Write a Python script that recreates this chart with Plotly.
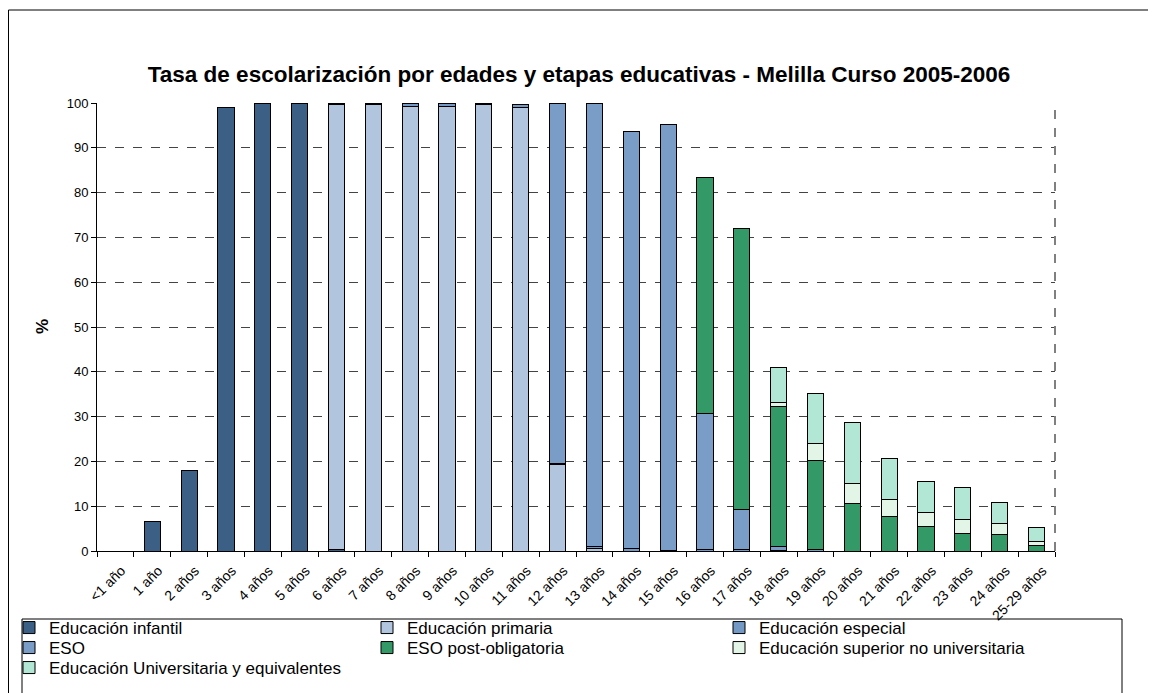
import plotly.graph_objects as go

categories = ["<1 año", "1 año", "2 años", "3 años", "4 años", "5 años", "6 años",
              "7 años", "8 años", "9 años", "10 años", "11 años", "12 años", "13 años",
              "14 años", "15 años", "16 años", "17 años", "18 años", "19 años",
              "20 años", "21 años", "22 años", "23 años", "24 años", "25-29 años"]

infantil = [0, 6.5, 18, 99, 100, 100, 0.4, 0, 0, 0, 0, 0, 0, 0,
            0, 0, 0, 0, 0, 0, 0, 0, 0, 0, 0, 0]
primaria = [0, 0, 0, 0, 0, 0, 99.2, 99.6, 99.2, 99.2, 99.6, 99.1, 19.3, 0.5,
            0, 0, 0, 0, 0, 0, 0, 0, 0, 0, 0, 0]
especial = [0, 0, 0, 0, 0, 0, 0.4, 0.3, 0.7, 0.6, 0.3, 0.6, 0.2, 0.4,
            0.5, 0.2, 0.3, 0.3, 0.2, 0, 0, 0, 0, 0, 0, 0]
eso = [0, 0, 0, 0, 0, 0, 0, 0, 0, 0, 0, 0, 80.5, 99.1,
       93.1, 95.0, 30.3, 9.0, 0.8, 0.3, 0, 0, 0, 0, 0, 0]
post_obligatoria = [0, 0, 0, 0, 0, 0, 0, 0, 0, 0, 0, 0, 0, 0,
                    0, 0, 52.7, 62.6, 31.2, 20.0, 10.5, 7.7, 5.4, 3.8, 3.6, 1.2]
superior_no_univ = [0, 0, 0, 0, 0, 0, 0, 0, 0, 0, 0, 0, 0, 0,
                    0, 0, 0, 0, 0.9, 3.6, 4.6, 3.9, 3.3, 3.3, 2.5, 1.0]
universitaria = [0, 0, 0, 0, 0, 0, 0, 0, 0, 0, 0, 0, 0, 0,
                 0, 0, 0, 0, 7.9, 11.3, 13.6, 9.0, 6.8, 7.1, 4.8, 3.0]

series_names = ["Educación infantil", "Educación primaria", "Educación especial",
                "ESO", "ESO post-obligatoria", "Educación superior no universitaria",
                "Educación Universitaria y equivalentes"]
series_values = [infantil, primaria, especial, eso, post_obligatoria,
                 superior_no_univ, universitaria]
series_colors = ["#3C5F86", "#B1C5DE", "#7499C4", "#7A9DC7", "#339966",
                 "#E2F5E6", "#B3E7D5"]

FONT = "Liberation Sans, Arial, sans-serif"

# the page adds an 8px body margin; work in page pixels and shift
OFF = 8
W, H = 1156, 693
PL, PR, PT, PB = 97, 1055, 103, 551          # plot area in page pixels
L = PL - OFF
T = PT - OFF
R = W - (PR - OFF)
B = H - (PB - OFF)
pw, ph = PR - PL, PB - PT

def px(xpage):
    return (xpage - PL) / pw

def py(ypage):
    return (PB - ypage) / ph

# legend grid: 3 columns x 3 rows as in the reference (page pixels of each cell)
col_x = [9, 367, 719]
row_top = [610, 630, 650]

fig = go.Figure()
legends = {}
for i, (name, vals, col) in enumerate(zip(series_names, series_values, series_colors)):
    lg = "legend" if i == 0 else f"legend{i + 1}"
    r, c = divmod(i, 3)
    legends[lg] = dict(orientation="v", xanchor="left", yanchor="top",
                       x=px(col_x[c]), y=py(row_top[r]),
                       bgcolor="rgba(0,0,0,0)", borderwidth=0,
                       font=dict(family=FONT, size=17, color="black"))
    fig.add_trace(go.Bar(
        x=categories, y=vals, name=name, legend=lg,
        marker=dict(color=col, line=dict(color="black", width=1)),
    ))

fig.update_layout(
    width=W, height=H,
    barmode="stack", bargap=0.56,
    paper_bgcolor="white", plot_bgcolor="white",
    margin=dict(l=L, r=R, t=T, b=B, autoexpand=False),
    font=dict(family=FONT, color="black", size=13),
    title=dict(text="<b>Tasa de escolarización por edades y etapas educativas - Melilla Curso 2005-2006</b>",
               x=(579 - OFF) / W, xref="container", xanchor="center",
               y=1 - (74 - OFF) / H, yref="container", yanchor="middle",
               font=dict(family=FONT, size=22.5, color="black")),
    showlegend=True,
    **legends,
    xaxis=dict(type="category", showline=True, linecolor="black", linewidth=1,
               ticks="outside", tickson="boundaries", ticklen=5, tickcolor="black",
               tickangle=-45, tickfont=dict(size=14), showgrid=False,
               ticklabelstandoff=5, ticklabelshift=6),
    yaxis=dict(range=[0, 100], dtick=10, showline=True, linecolor="black", linewidth=1,
               ticks="outside", ticklen=5, tickcolor="black",
               showgrid=True, gridcolor="#444444", griddash="dash", gridwidth=1,
               tickfont=dict(size=13), zeroline=False),
    annotations=[dict(text="<b>%</b>", x=px(42), y=0.5, xref="paper", yref="paper",
                      xanchor="center", yanchor="middle",
                      textangle=-90, showarrow=False,
                      font=dict(family=FONT, size=17, color="black"))],
    shapes=[
        dict(type="line", xref="paper", yref="paper", x0=1, x1=1, y0=0, y1=1,
             line=dict(color="#808080", width=2, dash="dash")),
        dict(type="line", xref="paper", yref="paper", x0=px(8.5), x1=px(1170),
             y0=py(10), y1=py(10), line=dict(color="black", width=1)),
        dict(type="line", xref="paper", yref="paper", x0=px(8.5), x1=px(8.5),
             y0=py(10), y1=py(710), line=dict(color="black", width=1)),
        dict(type="rect", xref="paper", yref="paper", x0=px(22), x1=px(1122),
             y0=py(619), y1=py(710), line=dict(color="black", width=1),
             fillcolor="rgba(0,0,0,0)"),
    ],
)

fig.write_html("out.html")
